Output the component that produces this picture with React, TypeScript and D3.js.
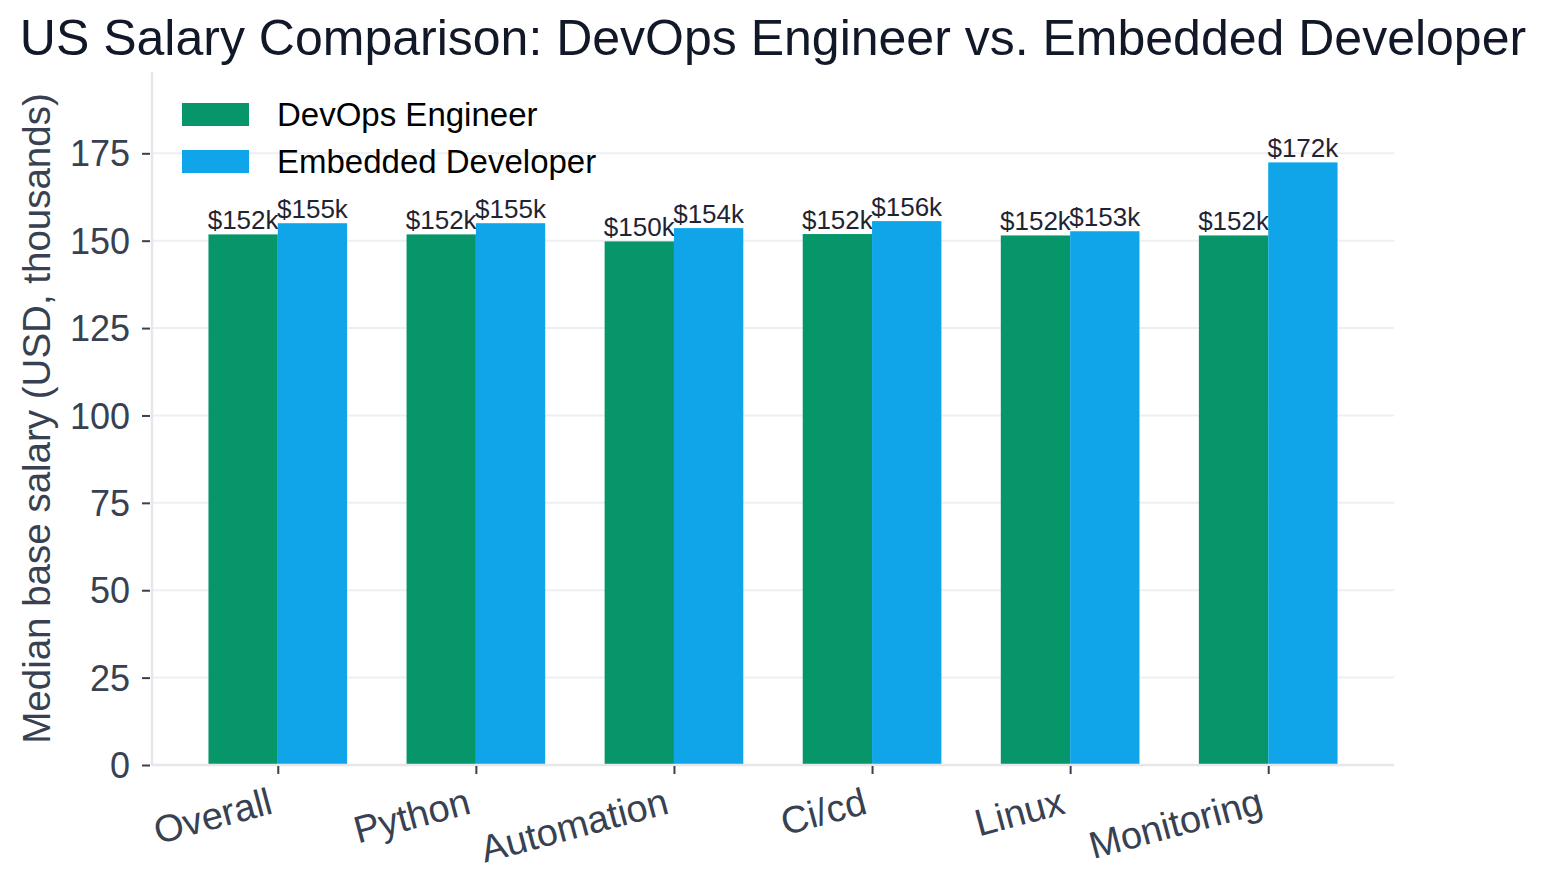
import * as d3 from "d3";
import { useRef, useEffect } from "react";

const width = 1544;
const height = 891;
const margin = { top: 72, right: 150, bottom: 126, left: 152 };

const categories = ["Overall", "Python", "Automation", "Ci/cd", "Linux", "Monitoring"];
const devopsSalary = [151.8, 151.8, 149.8, 151.9, 151.5, 151.5];
const embeddedSalary = [155.0, 155.0, 153.6, 155.6, 152.7, 172.4];
const seriesNames = ["DevOps Engineer", "Embedded Developer"];
const seriesColors = ["#069669", "#10a5e8"];
const yTicks = [0, 25, 50, 75, 100, 125, 150, 175];

const font = "'Liberation Sans', Arial, Helvetica, sans-serif";

export default function App() {
  const svgRef = useRef<SVGSVGElement>(null);

  useEffect(() => {
    const svg = d3.select(svgRef.current);
    svg.selectAll("*").remove();

    const innerLeft = margin.left;
    const innerRight = width - margin.right;
    const innerBottom = height - margin.bottom;

    // bars sit at integer positions, 0.35 wide each, with a 5% margin on x
    const barW = 0.35;
    const span = categories.length - 1 + 2 * barW;
    const pad = span * 0.05;
    const x = d3
      .scaleLinear()
      .domain([-barW - pad, categories.length - 1 + barW + pad])
      .range([innerLeft, innerRight]);

    const yMax = d3.max([...devopsSalary, ...embeddedSalary])! * 1.15;
    const y = d3.scaleLinear().domain([0, yMax]).range([innerBottom, margin.top]);

    // grid
    svg
      .append("g")
      .selectAll("line")
      .data(yTicks)
      .join("line")
      .attr("x1", innerLeft)
      .attr("x2", innerRight)
      .attr("y1", (d) => y(d))
      .attr("y2", (d) => y(d))
      .attr("stroke", "#eeeff2")
      .attr("stroke-width", 2);

    // bars
    const series = [devopsSalary, embeddedSalary];
    series.forEach((vals, si) => {
      const offset = si === 0 ? -barW : 0;
      const g = svg.append("g");
      g.selectAll("rect")
        .data(vals)
        .join("rect")
        .attr("x", (_, i) => x(i + offset))
        .attr("width", (_, i) => x(i + offset + barW) - x(i + offset))
        .attr("y", (d) => y(d))
        .attr("height", (d) => y(0) - y(d))
        .attr("fill", seriesColors[si]);
      g.selectAll("text")
        .data(vals)
        .join("text")
        .attr("x", (_, i) => x(i + offset + barW / 2))
        .attr("y", (d) => y(d) - 5)
        .attr("text-anchor", "middle")
        .attr("font-family", font)
        .attr("font-size", 26)
        .attr("fill", "#1f2433")
        .text((d) => `$${Math.round(d)}k`);
    });

    // spines
    svg
      .append("line")
      .attr("x1", innerLeft)
      .attr("x2", innerLeft)
      .attr("y1", margin.top)
      .attr("y2", innerBottom)
      .attr("stroke", "#e5e7eb")
      .attr("stroke-width", 2.5);
    svg
      .append("line")
      .attr("x1", innerLeft)
      .attr("x2", innerRight)
      .attr("y1", innerBottom)
      .attr("y2", innerBottom)
      .attr("stroke", "#e5e7eb")
      .attr("stroke-width", 2.5);

    // y axis
    const yAxis = svg
      .append("g")
      .attr("transform", `translate(${innerLeft - 2},0)`)
      .call(d3.axisLeft(y).tickValues(yTicks).tickSize(8).tickPadding(12));
    yAxis.select(".domain").remove();
    yAxis.selectAll(".tick line").attr("stroke", "#374151").attr("stroke-width", 2);
    yAxis
      .selectAll(".tick text")
      .attr("font-family", font)
      .attr("font-size", 36)
      .attr("fill", "#374151")
      .attr("dy", "0.35em");

    // x axis
    const xAxis = svg
      .append("g")
      .attr("transform", `translate(0,${innerBottom + 1})`)
      .call(
        d3
          .axisBottom(x)
          .tickValues(d3.range(categories.length))
          .tickFormat((d) => categories[d as number])
          .tickSize(8)
          .tickPadding(0)
      );
    xAxis.select(".domain").remove();
    xAxis.selectAll(".tick line").attr("stroke", "#374151").attr("stroke-width", 2);
    xAxis
      .selectAll(".tick text")
      .attr("font-family", font)
      .attr("font-size", 38)
      .attr("fill", "#374151")
      .attr("text-anchor", "end")
      .attr("dy", null)
      .attr("y", null)
      .attr("transform", "translate(-4,47) rotate(-15)");

    // y label
    svg
      .append("text")
      .attr("transform", `translate(50,${(margin.top + innerBottom) / 2}) rotate(-90)`)
      .attr("text-anchor", "middle")
      .attr("font-family", font)
      .attr("font-size", 38.5)
      .attr("fill", "#374151")
      .text("Median base salary (USD, thousands)");

    // title
    svg
      .append("text")
      .attr("x", width / 2 + 1)
      .attr("y", 55)
      .attr("text-anchor", "middle")
      .attr("font-family", font)
      .attr("font-size", 50)
      .attr("fill", "#111827")
      .text("US Salary Comparison: DevOps Engineer vs. Embedded Developer");

    // legend
    const legend = svg.append("g");
    seriesNames.forEach((name, i) => {
      const cy = 115 + i * 47;
      legend
        .append("rect")
        .attr("x", 182)
        .attr("y", cy - 12)
        .attr("width", 67)
        .attr("height", 23)
        .attr("fill", seriesColors[i]);
      legend
        .append("text")
        .attr("x", 277)
        .attr("y", cy + 11)
        .attr("font-family", font)
        .attr("font-size", 33)
        .attr("fill", "#000")
        .text(name);
    });
  }, []);

  return (
    <svg
      ref={svgRef}
      width={width}
      height={height}
      style={{ position: "absolute", left: 0, top: 0, background: "#fff" }}
    />
  );
}
